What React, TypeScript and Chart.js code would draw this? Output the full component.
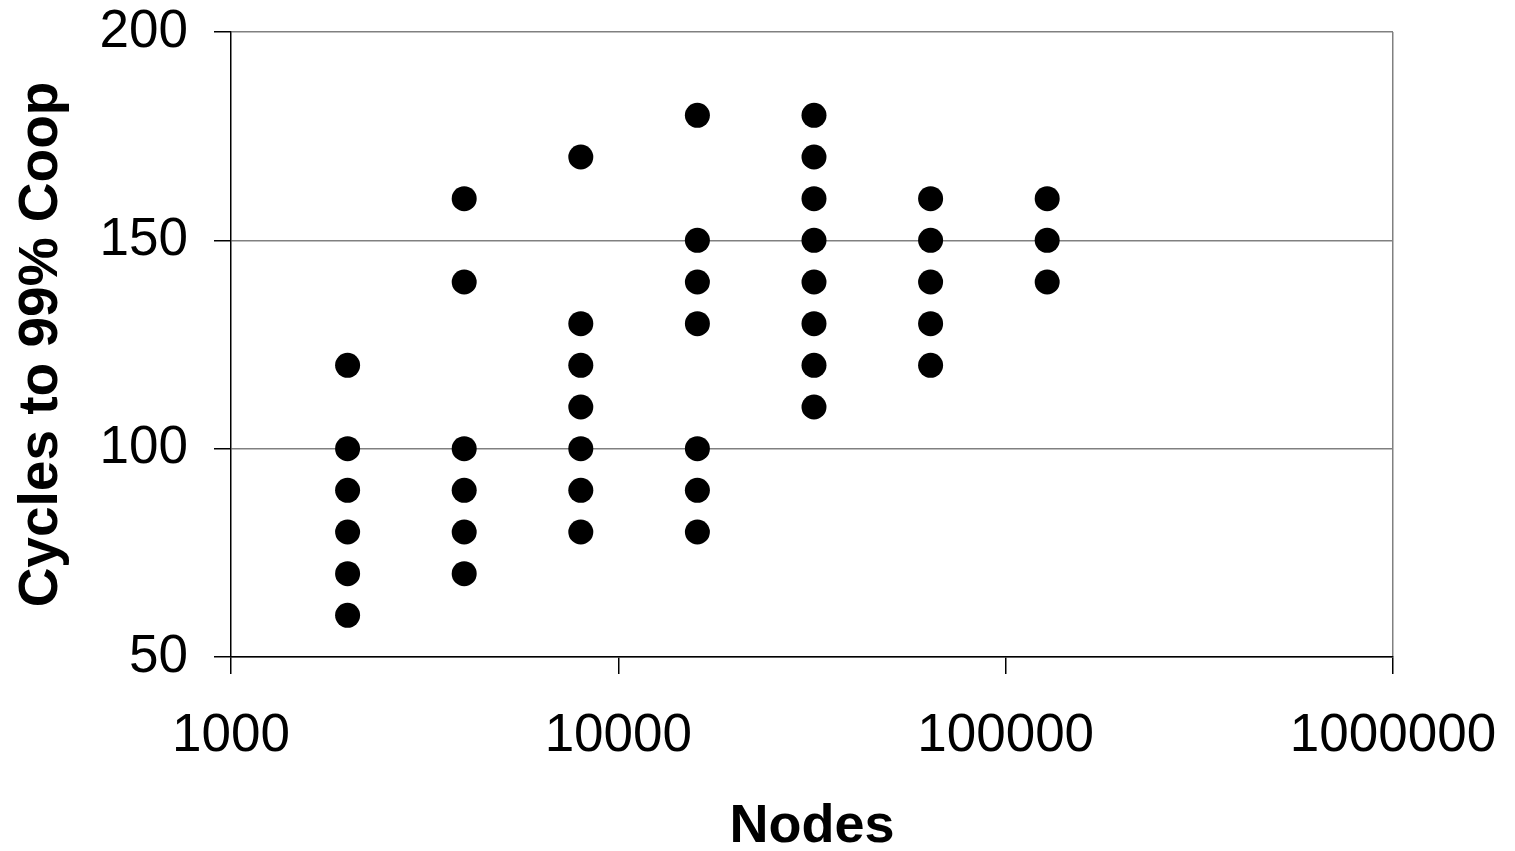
import React, { useEffect, useRef } from "react";
import { Chart, registerables } from "chart.js";

Chart.register(...registerables);

const nodes = [2000, 4000, 8000, 16000, 32000, 64000, 128000];
const cycles2000 = [120, 100, 90, 80, 70, 60];
const cycles4000 = [160, 140, 100, 90, 80, 70];
const cycles8000 = [170, 130, 120, 110, 100, 90, 80];
const cycles16000 = [180, 150, 140, 130, 100, 90, 80];
const cycles32000 = [180, 170, 160, 150, 140, 130, 120, 110];
const cycles64000 = [160, 150, 140, 130, 120];
const cycles128000 = [160, 150, 140];
const cyclesByNodes = [cycles2000, cycles4000, cycles8000, cycles16000, cycles32000, cycles64000, cycles128000];

const xTicks = [1000, 10000, 100000, 1000000];
const yTicks = [50, 100, 150, 200];

const FONT = "'Liberation Sans', Arial, Helvetica, sans-serif";

export default function App() {
  const ref = useRef<HTMLCanvasElement | null>(null);

  useEffect(() => {
    if (!ref.current) return;
    const points: { x: number; y: number }[] = [];
    nodes.forEach((n, i) => {
      cyclesByNodes[i].forEach((c) => points.push({ x: n, y: c }));
    });

    const chart = new Chart(ref.current, {
      type: "scatter",
      data: {
        datasets: [
          {
            data: points,
            backgroundColor: "#000",
            borderColor: "#000",
            pointRadius: 12.5,
            pointBorderWidth: 0,
            pointHoverRadius: 12.5,
          },
        ],
      },
      options: {
        responsive: false,
        animation: false,
        layout: { padding: { top: 32, right: 122, left: 0, bottom: 0 } },
        plugins: {
          legend: { display: false },
          tooltip: { enabled: false },
        },
        scales: {
          x: {
            type: "logarithmic",
            min: 1000,
            max: 1000000,
            afterBuildTicks: (scale: any) => {
              scale.ticks = xTicks.map((v) => ({ value: v }));
            },
            afterFit: (scale: any) => {
              scale.height = 194;
              scale.paddingLeft = 0;
              scale.paddingRight = 0;
            },
            ticks: {
              color: "#000",
              font: { family: FONT, size: 53 },
              padding: 31,
              maxRotation: 0,
              autoSkip: false,
              callback: (v: any) => String(v),
            },
            grid: {
              drawOnChartArea: true,
              color: (ctx: any) =>
                ctx.tick && ctx.tick.value === 1000000 ? "#808080" : "rgba(0,0,0,0)",
              tickColor: "#000",
              tickLength: 17,
              lineWidth: 1.5,
            },
            border: { color: "#000", width: 1.5 },
            title: {
              display: true,
              text: "Nodes",
              color: "#000",
              font: { family: FONT, size: 54, weight: "bold", lineHeight: 0.88 },
              padding: { top: 0, bottom: 0 },
            },
          },
          y: {
            min: 50,
            max: 200,
            afterBuildTicks: (scale: any) => {
              scale.ticks = yTicks.map((v) => ({ value: v }));
            },
            afterFit: (scale: any) => {
              scale.width = 231;
              scale.paddingTop = 0;
              scale.paddingBottom = 0;
            },
            ticks: {
              color: "#000",
              font: { family: FONT, size: 53 },
              padding: 26,
            },
            grid: {
              color: "#808080",
              tickColor: "#000",
              tickLength: 17,
              lineWidth: 1.5,
            },
            border: { color: "#000", width: 1.5 },
            title: {
              display: true,
              text: "Cycles to 99% Coop",
              color: "#000",
              font: { family: FONT, size: 55, weight: "bold", lineHeight: 1 },
              padding: { top: 14, bottom: 0 },
            },
          },
        },
      },
    });
    return () => chart.destroy();
  }, []);

  return (
    <div style={{ position: "absolute", left: 0, top: 0, width: 1515, height: 851, background: "#fff" }}>
      <canvas ref={ref} width={1515} height={851} style={{ display: "block" }} />
    </div>
  );
}
